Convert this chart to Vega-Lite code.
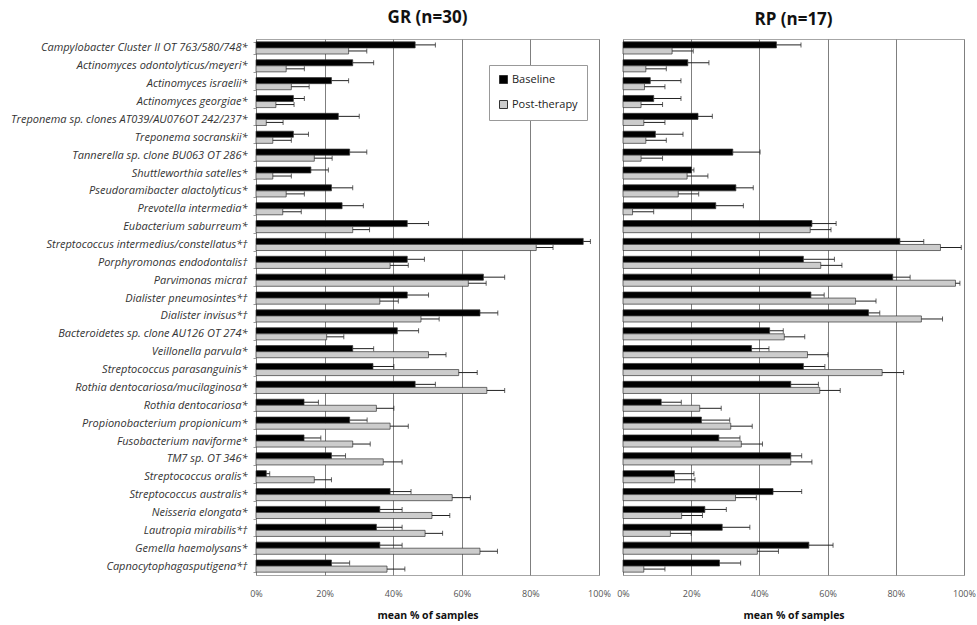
{
  "$schema": "https://vega.github.io/schema/vega-lite/v6.json",
  "padding": {"left": 5, "top": 8, "right": 0, "bottom": 0},
  "bounds": "flush",
  "spacing": 24,
  "background": "white",
  "config": {
    "view": {"stroke": "#a6a6a6", "strokeWidth": 1},
    "font": "Open Sans",
    "axis": {"gridColor": "#7f7f7f", "gridWidth": 1, "gridOpacity": 1}
  },
  "datasets": {
    "GR": [
      {"s": "Campylobacter Cluster II OT 763/580/748*", "g": "Baseline", "v": 46.4, "e": 52.3},
      {"s": "Campylobacter Cluster II OT 763/580/748*", "g": "Post-therapy", "v": 27, "e": 32.3},
      {"s": "Actinomyces odontolyticus/meyeri*", "g": "Baseline", "v": 28.2, "e": 34.3},
      {"s": "Actinomyces odontolyticus/meyeri*", "g": "Post-therapy", "v": 8.8, "e": 14.1},
      {"s": "Actinomyces israelii*", "g": "Baseline", "v": 22, "e": 27},
      {"s": "Actinomyces israelii*", "g": "Post-therapy", "v": 10.3, "e": 15.5},
      {"s": "Actinomyces georgiae*", "g": "Baseline", "v": 10.9, "e": 14.1},
      {"s": "Actinomyces georgiae*", "g": "Post-therapy", "v": 5.8, "e": 11.1},
      {"s": "Treponema sp. clones AT039/AU076OT 242/237*", "g": "Baseline", "v": 24, "e": 30.1},
      {"s": "Treponema sp. clones AT039/AU076OT 242/237*", "g": "Post-therapy", "v": 3, "e": 7.9},
      {"s": "Treponema socranskii*", "g": "Baseline", "v": 10.9, "e": 15.3},
      {"s": "Treponema socranskii*", "g": "Post-therapy", "v": 4.9, "e": 10.3},
      {"s": "Tannerella sp. clone BU063 OT 286*", "g": "Baseline", "v": 27.3, "e": 32.3},
      {"s": "Tannerella sp. clone BU063 OT 286*", "g": "Post-therapy", "v": 17, "e": 22.2},
      {"s": "Shuttleworthia satelles*", "g": "Baseline", "v": 16, "e": 21.1},
      {"s": "Shuttleworthia satelles*", "g": "Post-therapy", "v": 4.9, "e": 10.3},
      {"s": "Pseudoramibacter alactolyticus*", "g": "Baseline", "v": 22, "e": 28.2},
      {"s": "Pseudoramibacter alactolyticus*", "g": "Post-therapy", "v": 8.8, "e": 14.1},
      {"s": "Prevotella intermedia*", "g": "Baseline", "v": 25.1, "e": 31.3},
      {"s": "Prevotella intermedia*", "g": "Post-therapy", "v": 7.8, "e": 13.2},
      {"s": "Eubacterium saburreum*", "g": "Baseline", "v": 44.1, "e": 50.3},
      {"s": "Eubacterium saburreum*", "g": "Post-therapy", "v": 28.2, "e": 33.1},
      {"s": "Streptococcus intermedius/constellatus*†", "g": "Baseline", "v": 95.4, "e": 97.5},
      {"s": "Streptococcus intermedius/constellatus*†", "g": "Post-therapy", "v": 81.7, "e": 86.6},
      {"s": "Porphyromonas endodontalis†", "g": "Baseline", "v": 44.1, "e": 49.1},
      {"s": "Porphyromonas endodontalis†", "g": "Post-therapy", "v": 39.1, "e": 44.4},
      {"s": "Parvimonas micra†", "g": "Baseline", "v": 66.3, "e": 72.5},
      {"s": "Parvimonas micra†", "g": "Post-therapy", "v": 61.9, "e": 67.1},
      {"s": "Dialister pneumosintes*†", "g": "Baseline", "v": 44.1, "e": 50.3},
      {"s": "Dialister pneumosintes*†", "g": "Post-therapy", "v": 36.1, "e": 41.5},
      {"s": "Dialister invisus*†", "g": "Baseline", "v": 65.3, "e": 70.5},
      {"s": "Dialister invisus*†", "g": "Post-therapy", "v": 48.1, "e": 53.4},
      {"s": "Bacteroidetes sp. clone AU126 OT 274*", "g": "Baseline", "v": 41.2, "e": 47.4},
      {"s": "Bacteroidetes sp. clone AU126 OT 274*", "g": "Post-therapy", "v": 20.6, "e": 25.6},
      {"s": "Veillonella parvula*", "g": "Baseline", "v": 28.2, "e": 34.3},
      {"s": "Veillonella parvula*", "g": "Post-therapy", "v": 50.3, "e": 55.4},
      {"s": "Streptococcus parasanguinis*", "g": "Baseline", "v": 34.1, "e": 40.2},
      {"s": "Streptococcus parasanguinis*", "g": "Post-therapy", "v": 59.1, "e": 64.5},
      {"s": "Rothia dentocariosa/mucilaginosa*", "g": "Baseline", "v": 46.4, "e": 52.3},
      {"s": "Rothia dentocariosa/mucilaginosa*", "g": "Post-therapy", "v": 67.3, "e": 72.5},
      {"s": "Rothia dentocariosa*", "g": "Baseline", "v": 14, "e": 18.2},
      {"s": "Rothia dentocariosa*", "g": "Post-therapy", "v": 35.1, "e": 40.2},
      {"s": "Propionobacterium propionicum*", "g": "Baseline", "v": 27.3, "e": 32.4},
      {"s": "Propionobacterium propionicum*", "g": "Post-therapy", "v": 39.1, "e": 44.4},
      {"s": "Fusobacterium naviforme*", "g": "Baseline", "v": 14, "e": 18.9},
      {"s": "Fusobacterium naviforme*", "g": "Post-therapy", "v": 28.2, "e": 33.3},
      {"s": "TM7 sp. OT 346*", "g": "Baseline", "v": 22, "e": 26.1},
      {"s": "TM7 sp. OT 346*", "g": "Post-therapy", "v": 37.1, "e": 42.6},
      {"s": "Streptococcus oralis*", "g": "Baseline", "v": 3, "e": 4},
      {"s": "Streptococcus oralis*", "g": "Post-therapy", "v": 17, "e": 22},
      {"s": "Streptococcus australis*", "g": "Baseline", "v": 39.1, "e": 45.2},
      {"s": "Streptococcus australis*", "g": "Post-therapy", "v": 57.2, "e": 62.5},
      {"s": "Neisseria elongata*", "g": "Baseline", "v": 36.1, "e": 42.6},
      {"s": "Neisseria elongata*", "g": "Post-therapy", "v": 51.3, "e": 56.5},
      {"s": "Lautropia mirabilis*†", "g": "Baseline", "v": 35.1, "e": 42.6},
      {"s": "Lautropia mirabilis*†", "g": "Post-therapy", "v": 49.3, "e": 54.4},
      {"s": "Gemella haemolysans*", "g": "Baseline", "v": 36.1, "e": 42.6},
      {"s": "Gemella haemolysans*", "g": "Post-therapy", "v": 65.3, "e": 70.4},
      {"s": "Capnocytophagasputigena*†", "g": "Baseline", "v": 22, "e": 27.3},
      {"s": "Capnocytophagasputigena*†", "g": "Post-therapy", "v": 38.2, "e": 43.4}
    ],
    "RP": [
      {"s": "Campylobacter Cluster II OT 763/580/748*", "g": "Baseline", "v": 45, "e": 52.2},
      {"s": "Campylobacter Cluster II OT 763/580/748*", "g": "Post-therapy", "v": 14.4, "e": 20.6},
      {"s": "Actinomyces odontolyticus/meyeri*", "g": "Baseline", "v": 19, "e": 25.2},
      {"s": "Actinomyces odontolyticus/meyeri*", "g": "Post-therapy", "v": 6.7, "e": 12.7},
      {"s": "Actinomyces israelii*", "g": "Baseline", "v": 8, "e": 17},
      {"s": "Actinomyces israelii*", "g": "Post-therapy", "v": 6.3, "e": 12.3},
      {"s": "Actinomyces georgiae*", "g": "Baseline", "v": 9, "e": 17},
      {"s": "Actinomyces georgiae*", "g": "Post-therapy", "v": 5.3, "e": 11.6},
      {"s": "Treponema sp. clones AT039/AU076OT 242/237*", "g": "Baseline", "v": 22, "e": 26.2},
      {"s": "Treponema sp. clones AT039/AU076OT 242/237*", "g": "Post-therapy", "v": 6.1, "e": 12.3},
      {"s": "Treponema socranskii*", "g": "Baseline", "v": 9.5, "e": 17.6},
      {"s": "Treponema socranskii*", "g": "Post-therapy", "v": 6.7, "e": 12.7},
      {"s": "Tannerella sp. clone BU063 OT 286*", "g": "Baseline", "v": 32.2, "e": 40.2},
      {"s": "Tannerella sp. clone BU063 OT 286*", "g": "Post-therapy", "v": 5.3, "e": 11.6},
      {"s": "Shuttleworthia satelles*", "g": "Baseline", "v": 20.1, "e": 20.8},
      {"s": "Shuttleworthia satelles*", "g": "Post-therapy", "v": 18.8, "e": 24.9},
      {"s": "Pseudoramibacter alactolyticus*", "g": "Baseline", "v": 33.1, "e": 38.2},
      {"s": "Pseudoramibacter alactolyticus*", "g": "Post-therapy", "v": 16.2, "e": 22.2},
      {"s": "Prevotella intermedia*", "g": "Baseline", "v": 27.2, "e": 35.3},
      {"s": "Prevotella intermedia*", "g": "Post-therapy", "v": 2.8, "e": 9},
      {"s": "Eubacterium saburreum*", "g": "Baseline", "v": 55.4, "e": 62.5},
      {"s": "Eubacterium saburreum*", "g": "Post-therapy", "v": 54.9, "e": 61},
      {"s": "Streptococcus intermedius/constellatus*†", "g": "Baseline", "v": 81.2, "e": 88.2},
      {"s": "Streptococcus intermedius/constellatus*†", "g": "Post-therapy", "v": 93.1, "e": 99.2},
      {"s": "Porphyromonas endodontalis†", "g": "Baseline", "v": 52.9, "e": 62},
      {"s": "Porphyromonas endodontalis†", "g": "Post-therapy", "v": 58, "e": 64.2},
      {"s": "Parvimonas micra†", "g": "Baseline", "v": 79.1, "e": 84.2},
      {"s": "Parvimonas micra†", "g": "Post-therapy", "v": 97.5, "e": 98.8},
      {"s": "Dialister pneumosintes*†", "g": "Baseline", "v": 55.1, "e": 59},
      {"s": "Dialister pneumosintes*†", "g": "Post-therapy", "v": 68.2, "e": 74.2},
      {"s": "Dialister invisus*†", "g": "Baseline", "v": 72, "e": 75.3},
      {"s": "Dialister invisus*†", "g": "Post-therapy", "v": 87.5, "e": 93.7},
      {"s": "Bacteroidetes sp. clone AU126 OT 274*", "g": "Baseline", "v": 43, "e": 47},
      {"s": "Bacteroidetes sp. clone AU126 OT 274*", "g": "Post-therapy", "v": 47.3, "e": 53.3},
      {"s": "Veillonella parvula*", "g": "Baseline", "v": 37.7, "e": 42.8},
      {"s": "Veillonella parvula*", "g": "Post-therapy", "v": 54.1, "e": 60.1},
      {"s": "Streptococcus parasanguinis*", "g": "Baseline", "v": 52.9, "e": 59.2},
      {"s": "Streptococcus parasanguinis*", "g": "Post-therapy", "v": 76, "e": 82.3},
      {"s": "Rothia dentocariosa/mucilaginosa*", "g": "Baseline", "v": 49.2, "e": 57.3},
      {"s": "Rothia dentocariosa/mucilaginosa*", "g": "Post-therapy", "v": 57.7, "e": 63.7},
      {"s": "Rothia dentocariosa*", "g": "Baseline", "v": 11.2, "e": 17.1},
      {"s": "Rothia dentocariosa*", "g": "Post-therapy", "v": 22.5, "e": 28.8},
      {"s": "Propionobacterium propionicum*", "g": "Baseline", "v": 23, "e": 31.3},
      {"s": "Propionobacterium propionicum*", "g": "Post-therapy", "v": 31.6, "e": 37.9},
      {"s": "Fusobacterium naviforme*", "g": "Baseline", "v": 28.1, "e": 34.3},
      {"s": "Fusobacterium naviforme*", "g": "Post-therapy", "v": 34.7, "e": 40.9},
      {"s": "TM7 sp. OT 346*", "g": "Baseline", "v": 49.2, "e": 52.4},
      {"s": "TM7 sp. OT 346*", "g": "Post-therapy", "v": 49.2, "e": 55.4},
      {"s": "Streptococcus oralis*", "g": "Baseline", "v": 15.1, "e": 20.8},
      {"s": "Streptococcus oralis*", "g": "Post-therapy", "v": 15.1, "e": 21.1},
      {"s": "Streptococcus australis*", "g": "Baseline", "v": 44, "e": 52.4},
      {"s": "Streptococcus australis*", "g": "Post-therapy", "v": 33, "e": 39.1},
      {"s": "Neisseria elongata*", "g": "Baseline", "v": 24, "e": 30.3},
      {"s": "Neisseria elongata*", "g": "Post-therapy", "v": 17.2, "e": 23.3},
      {"s": "Lautropia mirabilis*†", "g": "Baseline", "v": 29.1, "e": 37.2},
      {"s": "Lautropia mirabilis*†", "g": "Post-therapy", "v": 13.9, "e": 20},
      {"s": "Gemella haemolysans*", "g": "Baseline", "v": 54.5, "e": 61.6},
      {"s": "Gemella haemolysans*", "g": "Post-therapy", "v": 39.4, "e": 45.6},
      {"s": "Capnocytophagasputigena*†", "g": "Baseline", "v": 28.3, "e": 34.5},
      {"s": "Capnocytophagasputigena*†", "g": "Post-therapy", "v": 6.1, "e": 12.3}
    ]
  },
  "resolve": {"legend": {"color": "independent"}},
  "hconcat": [
    {
      "data": {"name": "GR"},
      "width": 343,
      "height": 536,
      "title": {"text": "GR (n=30)", "fontSize": 17, "fontWeight": "bold", "font": "Open Sans", "anchor": "middle", "frame": "group", "offset": 6, "color": "#111"},
      "encoding": {
        "y": {"field": "s", "type": "nominal", "sort": null, "scale": {"paddingInner": 0.32, "paddingOuter": 0.16},
          "axis": {"title": null, "labelFont": "Open Sans", "labelFontStyle": "italic", "labelFontSize": 11, "labelColor": "#333", "tickSize": 3, "tickColor": "#999", "tickBand": "extent", "domain": false, "labelPadding": 6, "minExtent": 250, "maxExtent": 250, "labelLimit": 248}},
        "yOffset": {"field": "g", "type": "nominal", "sort": null, "scale": {"paddingInner": 0}}
      },
      "layer": [
        {
          "mark": {"type": "bar", "stroke": "#333", "strokeWidth": 0.7},
          "encoding": {
            "x": {"field": "v", "type": "quantitative", "scale": {"domain": [0, 100], "nice": false},
              "axis": {"values": [0, 20, 40, 60, 80, 100], "labelExpr": "datum.value + '%'", "grid": true, "ticks": false, "domain": false, "labelFontSize": 9, "labelColor": "#555", "labelPadding": 14, "labelFlush": false, "title": "mean % of samples", "titleFontSize": 10.5, "titleFontWeight": "bold", "titleColor": "#111", "titlePadding": 12}},
            "color": {"field": "g", "type": "nominal", "sort": null,
              "scale": {"domain": ["Baseline", "Post-therapy"], "range": ["#000000", "#cccccc"]},
              "legend": {"orient": "none", "legendX": 233, "legendY": 26, "title": null, "fillColor": "white", "strokeColor": "#999", "padding": 9, "labelFont": "Open Sans", "labelFontSize": 11, "labelColor": "#222", "labelOffset": 3, "symbolType": "square", "symbolSize": 64, "rowPadding": 12, "symbolStrokeColor": "#333", "symbolStrokeWidth": 1}}
          }
        },
        {
          "mark": {"type": "rule", "color": "#222", "strokeWidth": 1},
          "encoding": {"x": {"field": "v", "type": "quantitative"}, "x2": {"field": "e"}}
        },
        {
          "mark": {"type": "tick", "color": "#222", "thickness": 1, "size": 5},
          "encoding": {"x": {"field": "e", "type": "quantitative"}}
        }
      ]
    },
    {
      "data": {"name": "RP"},
      "width": 341,
      "height": 536,
      "title": {"text": "RP (n=17)", "fontSize": 17, "fontWeight": "bold", "font": "Open Sans", "anchor": "middle", "frame": "group", "offset": 6, "dy": -4, "color": "#111"},
      "encoding": {
        "y": {"field": "s", "type": "nominal", "sort": null, "scale": {"paddingInner": 0.32, "paddingOuter": 0.16}, "axis": null},
        "yOffset": {"field": "g", "type": "nominal", "sort": null, "scale": {"paddingInner": 0}}
      },
      "layer": [
        {
          "mark": {"type": "bar", "stroke": "#333", "strokeWidth": 0.7},
          "encoding": {
            "x": {"field": "v", "type": "quantitative", "scale": {"domain": [0, 100], "nice": false},
              "axis": {"values": [0, 20, 40, 60, 80, 100], "labelExpr": "datum.value + '%'", "grid": true, "ticks": false, "domain": false, "labelFontSize": 9, "labelColor": "#555", "labelPadding": 14, "labelFlush": false, "title": "mean % of samples", "titleFontSize": 10.5, "titleFontWeight": "bold", "titleColor": "#111", "titlePadding": 12}},
            "color": {"field": "g", "type": "nominal", "sort": null,
              "scale": {"domain": ["Baseline", "Post-therapy"], "range": ["#000000", "#cccccc"]},
              "legend": null}
          }
        },
        {
          "mark": {"type": "rule", "color": "#222", "strokeWidth": 1},
          "encoding": {"x": {"field": "v", "type": "quantitative"}, "x2": {"field": "e"}}
        },
        {
          "mark": {"type": "tick", "color": "#222", "thickness": 1, "size": 5},
          "encoding": {"x": {"field": "e", "type": "quantitative"}}
        }
      ]
    }
  ]
}
